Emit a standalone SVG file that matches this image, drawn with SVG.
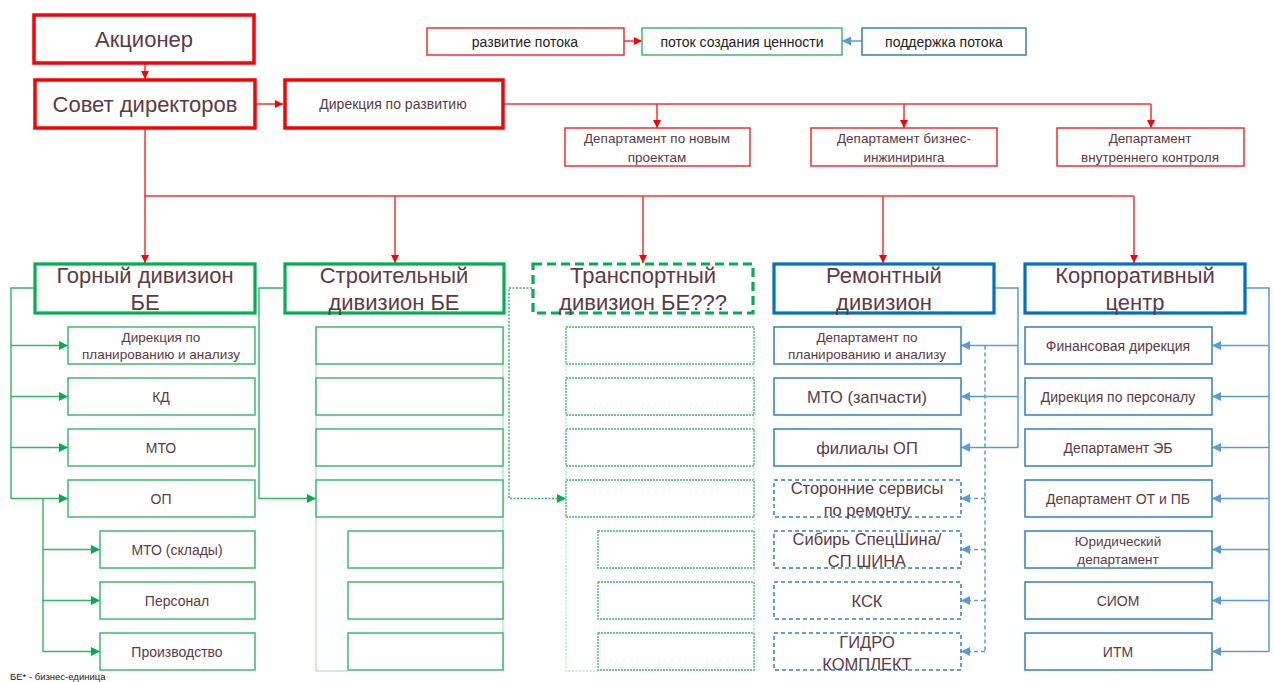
<svg xmlns="http://www.w3.org/2000/svg" width="1274" height="682" viewBox="0 0 1274 682">
<style>
text{font-family:"Liberation Sans",Arial,sans-serif;fill:#5e3a44;text-anchor:middle}
.lg{fill:#222}
.big{font-size:22px}
.hd{font-size:22px}
.m{font-size:14px}
.s{font-size:13.5px}
.r{font-size:16.5px}
.rt{fill:#fff;stroke:#ff0000;stroke-width:3.5}
.rs{fill:#fff;stroke:#ff2a2a;stroke-width:1.5}
.gh{fill:#fff;stroke:#00b050;stroke-width:3.2}
.ghd{fill:#fff;stroke:#00b050;stroke-width:3.2;stroke-dasharray:9 5}
.gs{fill:#fff;stroke:#3cbd6e;stroke-width:1.5}
.gsd{fill:#fff;stroke:#3cbd6e;stroke-width:1.3;stroke-dasharray:2 1}
.bh{fill:#fff;stroke:#0070c0;stroke-width:3.2}
.bs{fill:#fff;stroke:#2e80c8;stroke-width:1.5}
.bsd{fill:#fff;stroke:#2e80c8;stroke-width:1.5;stroke-dasharray:4 3}
.cr{fill:none;stroke:#ff3030;stroke-width:1.5}
.cg{fill:none;stroke:#2fb864;stroke-width:1.4}
.cgd{fill:none;stroke:#2fb864;stroke-width:1.4;stroke-dasharray:2 1.5}
.cb{fill:none;stroke:#5b9bd5;stroke-width:1.5}
.cbd{fill:none;stroke:#5b9bd5;stroke-width:1.5;stroke-dasharray:4 3}
.lc{fill:none;stroke:#bfe8cd;stroke-width:1.5}
.lcd{fill:none;stroke:#bfe8cd;stroke-width:1.5;stroke-dasharray:2 1.5}
</style>
<defs>
<marker id="ar" viewBox="0 0 10 10" refX="10" refY="5" markerWidth="8" markerHeight="8" markerUnits="userSpaceOnUse" orient="auto"><path d="M0,0 L10,5 L0,10 z" fill="#ff0000"/></marker>
<marker id="ag" viewBox="0 0 10 10" refX="10" refY="5" markerWidth="9" markerHeight="9" markerUnits="userSpaceOnUse" orient="auto"><path d="M0,0 L10,5 L0,10 z" fill="#00b050"/></marker>
<marker id="ab" viewBox="0 0 10 10" refX="10" refY="5" markerWidth="9" markerHeight="9" markerUnits="userSpaceOnUse" orient="auto"><path d="M0,0 L10,5 L0,10 z" fill="#5b9bd5"/></marker>
</defs>

<g id="containers">
<path class="lc" d="M316,327 V671 H348 M503,327 V671"/>
<path class="lcd" d="M566,327 V671 H598 M754,327 V671"/>
</g>

<g id="connectors">
<path class="cr" d="M145,63 V79" marker-end="url(#ar)"/>
<path class="cr" d="M256,104 H283" marker-end="url(#ar)"/>
<path class="cr" d="M504,104 H1151"/>
<path class="cr" d="M657,104 V128" marker-end="url(#ar)"/>
<path class="cr" d="M904,104 V128" marker-end="url(#ar)"/>
<path class="cr" d="M1151,104 V128" marker-end="url(#ar)"/>
<path class="cr" d="M145,128 V196 H1134"/>
<path class="cr" d="M145,196 V263" marker-end="url(#ar)"/>
<path class="cr" d="M395,196 V263" marker-end="url(#ar)"/>
<path class="cr" d="M643,196 V263" marker-end="url(#ar)"/>
<path class="cr" d="M883,196 V263" marker-end="url(#ar)"/>
<path class="cr" d="M1134,196 V263" marker-end="url(#ar)"/>
<path class="cr" d="M624,41 H642" marker-end="url(#ar)"/>
<path class="cb" d="M862,41 H842" marker-end="url(#ab)"/>

<path class="cg" d="M34,288 H11 V498.5"/>
<path class="cg" d="M11,345.5 H68" marker-end="url(#ag)"/>
<path class="cg" d="M11,396.5 H68" marker-end="url(#ag)"/>
<path class="cg" d="M11,447.5 H68" marker-end="url(#ag)"/>
<path class="cg" d="M11,498.5 H68" marker-end="url(#ag)"/>
<path class="cg" d="M43,498.5 V651.5"/>
<path class="cg" d="M43,549.5 H100" marker-end="url(#ag)"/>
<path class="cg" d="M43,600.5 H100" marker-end="url(#ag)"/>
<path class="cg" d="M43,651.5 H100" marker-end="url(#ag)"/>

<path class="cg" d="M283,288 H259 V498.5 H316" marker-end="url(#ag)"/>
<path class="cgd" d="M532,288 H509 V498.5 H566" marker-end="url(#ag)"/>

<path class="cb" d="M995,288 H1018 V447.5"/>
<path class="cb" d="M1018,345.5 H961" marker-end="url(#ab)"/>
<path class="cb" d="M1018,396.5 H961" marker-end="url(#ab)"/>
<path class="cb" d="M1018,447.5 H961" marker-end="url(#ab)"/>
<path class="cbd" d="M985,345.5 V651.5"/>
<path class="cbd" d="M985,498.5 H961" marker-end="url(#ab)"/>
<path class="cbd" d="M985,549.5 H961" marker-end="url(#ab)"/>
<path class="cbd" d="M985,600.5 H961" marker-end="url(#ab)"/>
<path class="cbd" d="M985,651.5 H961" marker-end="url(#ab)"/>

<path class="cb" d="M1246,288 H1269 V651.5"/>
<path class="cb" d="M1269,345.5 H1212" marker-end="url(#ab)"/>
<path class="cb" d="M1269,396.5 H1212" marker-end="url(#ab)"/>
<path class="cb" d="M1269,447.5 H1212" marker-end="url(#ab)"/>
<path class="cb" d="M1269,498.5 H1212" marker-end="url(#ab)"/>
<path class="cb" d="M1269,549.5 H1212" marker-end="url(#ab)"/>
<path class="cb" d="M1269,600.5 H1212" marker-end="url(#ab)"/>
<path class="cb" d="M1269,651.5 H1212" marker-end="url(#ab)"/>
</g>

<g id="legend-dev"><rect class="rs" x="427" y="28" width="197" height="27"/><text class="m lg" x="525" y="46.5">развитие потока</text></g>
<g id="legend-value"><rect x="642" y="28" width="200" height="27" fill="#fff" stroke="#3cbd6e" stroke-width="1.5"/><text class="m lg" x="742" y="46.5">поток создания ценности</text></g>
<g id="legend-support"><rect class="bs" x="862" y="28" width="164" height="27"/><text class="m lg" x="944" y="46.5">поддержка потока</text></g>

<g id="shareholder"><rect class="rt" x="34" y="15" width="220" height="48"/><text class="big" x="144" y="47">Акционер</text></g>
<g id="board"><rect class="rt" x="35" y="80" width="220" height="48"/><text class="big" x="145" y="112">Совет директоров</text></g>
<g id="dev-directorate"><rect class="rt" x="285" y="80" width="218" height="48"/><text class="m" x="393" y="109">Дирекция по развитию</text></g>
<g id="dep-new"><rect class="rs" x="565" y="128" width="185" height="38"/><text class="s" x="657" y="143">Департамент по новым</text><text class="s" x="657" y="162">проектам</text></g>
<g id="dep-be"><rect class="rs" x="811" y="128" width="186" height="38"/><text class="s" x="904" y="143">Департамент бизнес-</text><text class="s" x="904" y="162">инжиниринга</text></g>
<g id="dep-ic"><rect class="rs" x="1057" y="128" width="187" height="38"/><text class="s" x="1150" y="143">Департамент</text><text class="s" x="1150" y="162">внутреннего контроля</text></g>

<g id="div-mining"><rect class="gh" x="35" y="264" width="220" height="49"/><text class="hd" x="145" y="283">Горный дивизион</text><text class="hd" x="145" y="310">БЕ</text></g>
<g id="div-construction"><rect class="gh" x="285" y="264" width="219" height="49"/><text class="hd" x="394" y="283">Строительный</text><text class="hd" x="394" y="310">дивизион БЕ</text></g>
<g id="div-transport"><rect class="ghd" x="533" y="264" width="220" height="49"/><text class="hd" x="643" y="283">Транспортный</text><text class="hd" x="643" y="310">дивизион БЕ???</text></g>
<g id="div-repair"><rect class="bh" x="774" y="264" width="220" height="49"/><text class="hd" x="884" y="283">Ремонтный</text><text class="hd" x="884" y="310">дивизион</text></g>
<g id="div-corp"><rect class="bh" x="1025" y="264" width="220" height="49"/><text class="hd" x="1135" y="283">Корпоративный</text><text class="hd" x="1135" y="310">центр</text></g>

<g id="m1"><rect class="gs" x="68" y="327" width="187" height="37"/><text class="s" x="161" y="342">Дирекция по</text><text class="s" x="161" y="359">планированию и анализу</text></g>
<g id="m2"><rect class="gs" x="68" y="378" width="187" height="37"/><text class="m" x="161" y="401.5">КД</text></g>
<g id="m3"><rect class="gs" x="68" y="429" width="187" height="37"/><text class="m" x="161" y="452.5">МТО</text></g>
<g id="m4"><rect class="gs" x="68" y="480" width="187" height="37"/><text class="m" x="161" y="503.5">ОП</text></g>
<g id="m5"><rect class="gs" x="100" y="531" width="155" height="37"/><text class="m" x="177" y="554.5">МТО (склады)</text></g>
<g id="m6"><rect class="gs" x="100" y="582" width="155" height="37"/><text class="m" x="177" y="605.5">Персонал</text></g>
<g id="m7"><rect class="gs" x="100" y="633" width="155" height="37"/><text class="m" x="177" y="656.5">Производство</text></g>

<g id="c1"><rect class="gs" x="316" y="327" width="187" height="37"/></g>
<g id="c2"><rect class="gs" x="316" y="378" width="187" height="37"/></g>
<g id="c3"><rect class="gs" x="316" y="429" width="187" height="37"/></g>
<g id="c4"><rect class="gs" x="316" y="480" width="187" height="37"/></g>
<g id="c5"><rect class="gs" x="348" y="531" width="155" height="37"/></g>
<g id="c6"><rect class="gs" x="348" y="582" width="155" height="37"/></g>
<g id="c7"><rect class="gs" x="348" y="633" width="155" height="37"/></g>

<g id="t1"><rect class="gsd" x="566" y="327" width="188" height="37"/></g>
<g id="t2"><rect class="gsd" x="566" y="378" width="188" height="37"/></g>
<g id="t3"><rect class="gsd" x="566" y="429" width="188" height="37"/></g>
<g id="t4"><rect class="gsd" x="566" y="480" width="188" height="37"/></g>
<g id="t5"><rect class="gsd" x="598" y="531" width="156" height="37"/></g>
<g id="t6"><rect class="gsd" x="598" y="582" width="156" height="37"/></g>
<g id="t7"><rect class="gsd" x="598" y="633" width="156" height="37"/></g>

<g id="r1"><rect class="bs" x="774" y="327" width="187" height="37"/><text class="s" x="867" y="342">Департамент по</text><text class="s" x="867" y="359">планированию и анализу</text></g>
<g id="r2"><rect class="bs" x="774" y="378" width="187" height="37"/><text class="r" x="867" y="402.5">МТО (запчасти)</text></g>
<g id="r3"><rect class="bs" x="774" y="429" width="187" height="37"/><text class="r" x="867" y="453.5">филиалы ОП</text></g>
<g id="r4"><rect class="bsd" x="774" y="480" width="187" height="37"/><text class="r" x="867" y="494">Сторонние сервисы</text><text class="r" x="867" y="516">по ремонту</text></g>
<g id="r5"><rect class="bsd" x="774" y="531" width="187" height="37"/><text class="r" x="867" y="545">Сибирь СпецШина/</text><text class="r" x="867" y="567">СП ШИНА</text></g>
<g id="r6"><rect class="bsd" x="774" y="582" width="187" height="37"/><text class="r" x="867" y="606.5">КСК</text></g>
<g id="r7"><rect class="bsd" x="774" y="633" width="187" height="37"/><text class="r" x="867" y="648">ГИДРО</text><text class="r" x="867" y="670">КОМПЛЕКТ</text></g>

<g id="k1"><rect class="bs" x="1025" y="327" width="187" height="37"/><text class="m" x="1118" y="350.5">Финансовая дирекция</text></g>
<g id="k2"><rect class="bs" x="1025" y="378" width="187" height="37"/><text class="m" x="1118" y="401.5">Дирекция по персоналу</text></g>
<g id="k3"><rect class="bs" x="1025" y="429" width="187" height="37"/><text class="m" x="1118" y="452.5">Департамент ЭБ</text></g>
<g id="k4"><rect class="bs" x="1025" y="480" width="187" height="37"/><text class="m" x="1118" y="503.5">Департамент ОТ и ПБ</text></g>
<g id="k5"><rect class="bs" x="1025" y="531" width="187" height="37"/><text class="s" x="1118" y="546">Юридический</text><text class="s" x="1118" y="564">департамент</text></g>
<g id="k6"><rect class="bs" x="1025" y="582" width="187" height="37"/><text class="m" x="1118" y="605.5">СИОМ</text></g>
<g id="k7"><rect class="bs" x="1025" y="633" width="187" height="37"/><text class="m" x="1118" y="656.5">ИТМ</text></g>

<text x="10" y="680" style="font-size:9.5px;text-anchor:start;fill:#222">БЕ* - бизнес-единица</text>
</svg>
